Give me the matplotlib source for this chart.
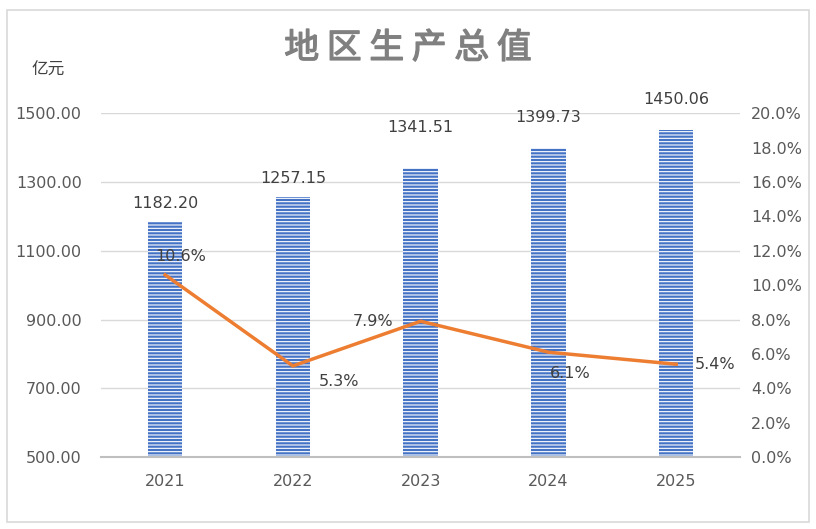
import matplotlib.pyplot as plt
import matplotlib.patheffects as pe
from matplotlib.patches import Rectangle

plt.rcParams['font.family'] = ['DejaVu Sans', 'Noto Sans CJK SC']
plt.rcParams['hatch.color'] = 'white'
plt.rcParams['hatch.linewidth'] = 0.8

# data
years = ['2021', '2022', '2023', '2024', '2025']
gdp = [1182.20, 1257.15, 1341.51, 1399.73, 1450.06]
growth = [10.6, 5.3, 7.9, 6.1, 5.4]
# label offsets (points)
gdp_offsets = [14, 13, 29, 22, 22]
growth_offsets = [(11, 13), (33, -11), (-34, 0), (16, -15), (28, 0)]

txt = '#595959'
lab = '#404040'
x = range(len(years))

fig = plt.figure(figsize=(8.16, 5.29), dpi=100)
fig.patches.append(Rectangle((0.008, 0.013), 0.984, 0.968, transform=fig.transFigure,
                             fill=False, edgecolor='#d9d9d9', linewidth=1.2))

ax = fig.add_axes([0.124, 0.136, 0.783, 0.650])
ax.bar(x, gdp, width=0.27, color='#4472c4', hatch='-----', edgecolor='white', linewidth=0, zorder=2)
ax.set_ylim(500, 1500)
ax.set_xlim(-0.5, 4.5)
ax.set_yticks(range(500, 1501, 200))
ax.set_yticklabels([f'{v:.2f}' for v in range(500, 1501, 200)])
ax.set_xticks(list(x))
ax.set_xticklabels(years)
ax.grid(axis='y', color='#d9d9d9', linewidth=1, zorder=0)
for s in ['top', 'right', 'left']:
    ax.spines[s].set_visible(False)
ax.spines['bottom'].set_color('#bfbfbf')
ax.spines['bottom'].set_linewidth(1.5)
ax.tick_params(length=0, labelsize=11.5, colors=txt, pad=12)
ax.tick_params(axis='y', pad=14)
for i, v in enumerate(gdp):
    ax.annotate(f'{v:.2f}', (i, v), xytext=(0, gdp_offsets[i]), textcoords='offset points',
                ha='center', va='center', fontsize=11.5, color=lab)

ax2 = ax.twinx()
ax2.plot(list(x), growth, color='#ed7d31', linewidth=2.5, zorder=3)
ax2.set_ylim(0, 20)
ax2.set_yticks(range(0, 21, 2))
ax2.set_yticklabels([f'{v:.1f}%' for v in range(0, 21, 2)])
for s in ['top', 'right', 'left', 'bottom']:
    ax2.spines[s].set_visible(False)
ax2.tick_params(length=0, labelsize=11.5, colors=txt, pad=8)
for i, v in enumerate(growth):
    ax2.annotate(f'{v}%', (i, v), xytext=growth_offsets[i], textcoords='offset points',
                 ha='center', va='center', fontsize=11.5, color=lab)

fig.text(0.5, 0.908, '地 区 生 产 总 值', ha='center', va='center', fontsize=25,
         color='#808080', family='Noto Sans CJK SC',
         path_effects=[pe.withStroke(linewidth=1.0, foreground='#808080')])
fig.text(0.059, 0.868, '亿元', ha='center', va='center', fontsize=12, color=lab,
         family='Noto Sans CJK SC')

fig.savefig('out.png', dpi=100)
